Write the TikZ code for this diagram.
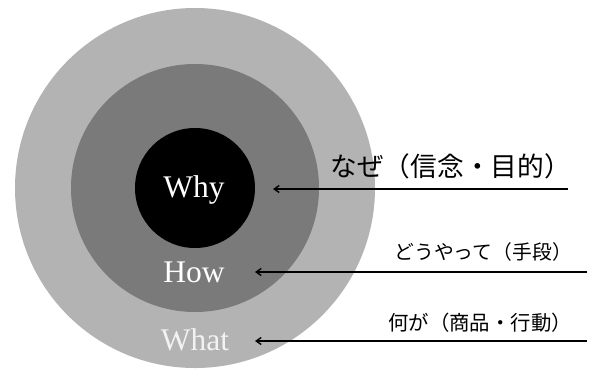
\documentclass[tikz,border=0pt]{standalone}
\usepackage{fontspec}
\setmainfont{Liberation Serif}
\newfontfamily\jpfont{Noto Sans CJK JP}
\usetikzlibrary{arrows.meta}
\definecolor{outerc}{RGB}{179,179,179}
\definecolor{midc}{RGB}{122,122,122}
\definecolor{whatc}{RGB}{242,242,242}
\tikzset{
  ring/.style={circle, draw=none, inner sep=0pt},
  word/.style={font=\fontsize{31.5}{32}\selectfont, inner sep=0pt, anchor=base},
  jlabel/.style={font=\jpfont, inner sep=0pt, anchor=east},
  pointer/.style={line width=1.6pt, -{Straight Barb[length=5pt,width=7pt,line width=1.4pt]}}
}
\begin{document}
\begin{tikzpicture}[x=1pt,y=-1pt]
\useasboundingbox (0,0) rectangle (594,368);
\fill[white] (0,0) rectangle (594,368);
\begin{scope}
\clip (0,0) rectangle (594,368);
\node[ring, fill=outerc, minimum size=360pt] (outer) at (195,188) {};
\end{scope}
\node[ring, fill=midc, minimum size=248pt] (mid) at (195,188) {};
\node[ring, fill=black, minimum size=120pt] (inner) at (195,188) {};
\node[word, text=white] (why) at (194,197) {Why};
\node[word, text=white] (how) at (194,282) {How};
\node[word, text=whatc] (what) at (195,350) {What};
\coordinate (s1) at (568,189);
\coordinate (e1) at (273,189);
\coordinate (s2) at (587,272);
\coordinate (e2) at (255,272);
\coordinate (s3) at (587,341);
\coordinate (e3) at (255,341);
\draw[pointer] (s1) -- (e1);
\draw[pointer] (s2) -- (e2);
\draw[pointer] (s3) -- (e3);
\node[jlabel, font=\jpfont\fontsize{26.7}{27}\selectfont] (l1) at (571,166) {なぜ（信念・目的）};
\node[jlabel, font=\jpfont\fontsize{19.8}{20}\selectfont] (l2) at (572,252) {どうやって（手段）};
\node[jlabel, font=\jpfont\fontsize{20.4}{21}\selectfont] (l3) at (572,323) {何が（商品・行動）};
\end{tikzpicture}
\end{document}
